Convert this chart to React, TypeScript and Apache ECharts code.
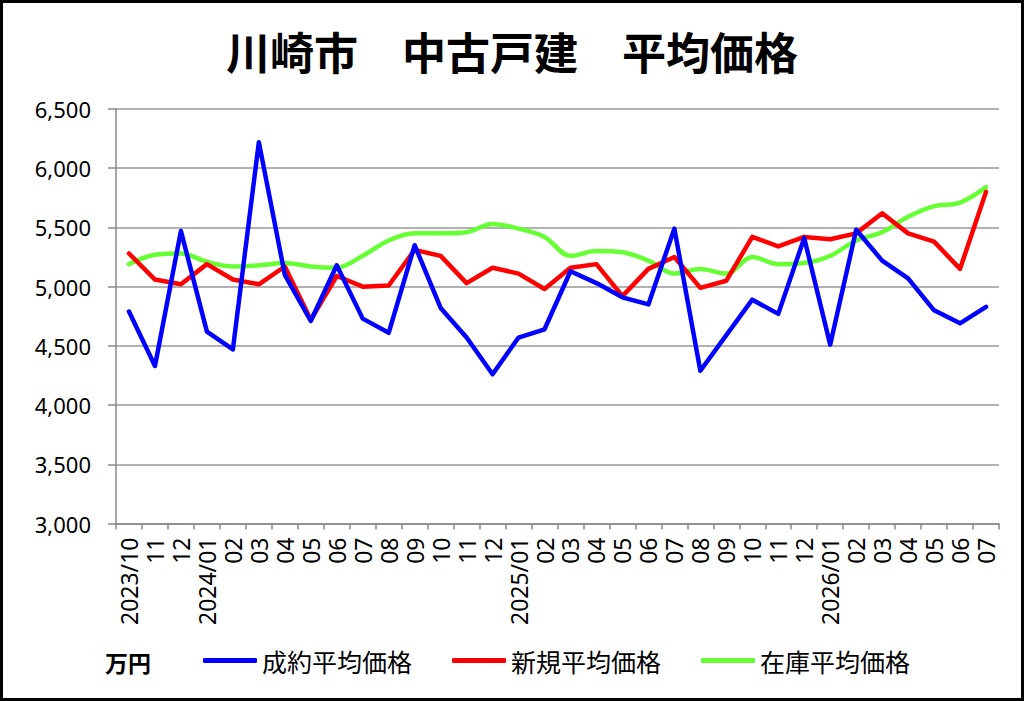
import React, { useEffect, useRef } from "react";
import * as echarts from "echarts";

const months: string[] = [
  "2023/10", "11", "12",
  "2024/01", "02", "03", "04", "05", "06", "07", "08", "09", "10", "11", "12",
  "2025/01", "02", "03", "04", "05", "06", "07", "08", "09", "10", "11", "12",
  "2026/01", "02", "03", "04", "05", "06", "07",
];

const closedPrice: number[] = [
  4790, 4330, 5470,
  4620, 4470, 6220, 5100, 4710, 5180, 4730, 4610, 5350, 4820, 4570, 4260,
  4570, 4640, 5130, 5030, 4910, 4850, 5490, 4290, 4590, 4890, 4770, 5410,
  4510, 5480, 5220, 5070, 4800, 4690, 4830,
];

const newPrice: number[] = [
  5280, 5060, 5020,
  5190, 5060, 5020, 5170, 4720, 5090, 5000, 5010, 5310, 5260, 5030, 5160,
  5110, 4980, 5160, 5190, 4920, 5150, 5250, 4990, 5050, 5420, 5340, 5420,
  5400, 5450, 5620, 5450, 5380, 5150, 5800,
];

const stockPrice: number[] = [
  5190, 5270, 5280,
  5210, 5170, 5180, 5200, 5170, 5160, 5260, 5390, 5450, 5450, 5460, 5530,
  5490, 5420, 5260, 5300, 5290, 5220, 5110, 5150, 5110, 5250, 5190, 5200,
  5260, 5390, 5460, 5590, 5680, 5710, 5840,
];

const seriesNames: string[] = ["成約平均価格", "新規平均価格", "在庫平均価格"];
const seriesColors: string[] = ["#0000ff", "#ff0000", "#66ff33"];

const titleText = "川崎市　中古戸建　平均価格";
const unitText = "万円";

export default function App() {
  const ref = useRef<HTMLDivElement>(null);

  useEffect(() => {
    if (!ref.current) return;
    const chart = echarts.init(ref.current, undefined, { renderer: "svg" });
    const jp = "'Noto Sans CJK JP', 'Noto Sans', sans-serif";
    const num = "'Noto Sans', 'Noto Sans CJK JP', sans-serif";
    const dataSets = [closedPrice, newPrice, stockPrice];

    chart.setOption({
      animation: false,
      backgroundColor: "#ffffff",
      grid: { left: 116, right: 25, top: 109, bottom: 177.5, containLabel: false },
      legend: {
        data: seriesNames,
        left: 203,
        top: 648,
        padding: 0,
        icon: "roundRect",
        itemWidth: 54,
        itemHeight: 5,
        itemGap: 40,
        textStyle: { fontSize: 25, fontFamily: jp, color: "#000" },
      },
      xAxis: {
        type: "category",
        data: months,
        boundaryGap: true,
        axisLine: { show: true, lineStyle: { color: "#888", width: 1.5 } },
        axisTick: { show: true, interval: 0, length: 6, lineStyle: { color: "#888", width: 1.5 } },
        axisLabel: {
          interval: 0,
          rotate: 90,
          margin: 14,
          fontSize: 23,
          fontFamily: num,
          color: "#000",
        },
        splitLine: { show: false },
      },
      yAxis: {
        type: "value",
        min: 3000,
        max: 6500,
        interval: 500,
        axisLine: { show: true, lineStyle: { color: "#888", width: 1.5 } },
        axisTick: { show: true, length: 8, lineStyle: { color: "#888", width: 1.5 } },
        axisLabel: {
          margin: 25,
          fontSize: 22,
          fontFamily: num,
          color: "#000",
          formatter: (v: number) => v.toLocaleString("en-US"),
        },
        splitLine: { show: true, lineStyle: { color: "#999", width: 1.5 } },
      },
      series: seriesNames.map((name, i) => ({
        name,
        type: "line",
        data: dataSets[i],
        showSymbol: false,
        symbol: "none",
        smooth: i === 2 ? 0.35 : false,
        color: seriesColors[i],
        lineStyle: { width: 4.5, color: seriesColors[i], cap: "round", join: "round" },
        z: i === 2 ? 2 : i === 1 ? 3 : 4,
      })),
      graphic: [
        {
          type: "rect",
          shape: { x: 1.5, y: 1.5, width: 1021, height: 698 },
          style: { fill: "none", stroke: "#000", lineWidth: 3 },
          z: 100,
        },
        {
          type: "text",
          x: 512,
          y: 51,
          style: {
            text: titleText,
            fontSize: 44,
            fontWeight: "bold",
            fontFamily: jp,
            fill: "#000",
            align: "center",
            verticalAlign: "middle",
          },
        },
        {
          type: "text",
          x: 105,
          y: 662,
          style: {
            text: unitText,
            fontSize: 23,
            fontWeight: "bold",
            fontFamily: jp,
            fill: "#000",
            align: "left",
            verticalAlign: "middle",
          },
        },
      ],
    });

    return () => chart.dispose();
  }, []);

  return (
    <div
      ref={ref}
      style={{ position: "absolute", left: 0, top: 0, width: 1024, height: 701 }}
    />
  );
}
